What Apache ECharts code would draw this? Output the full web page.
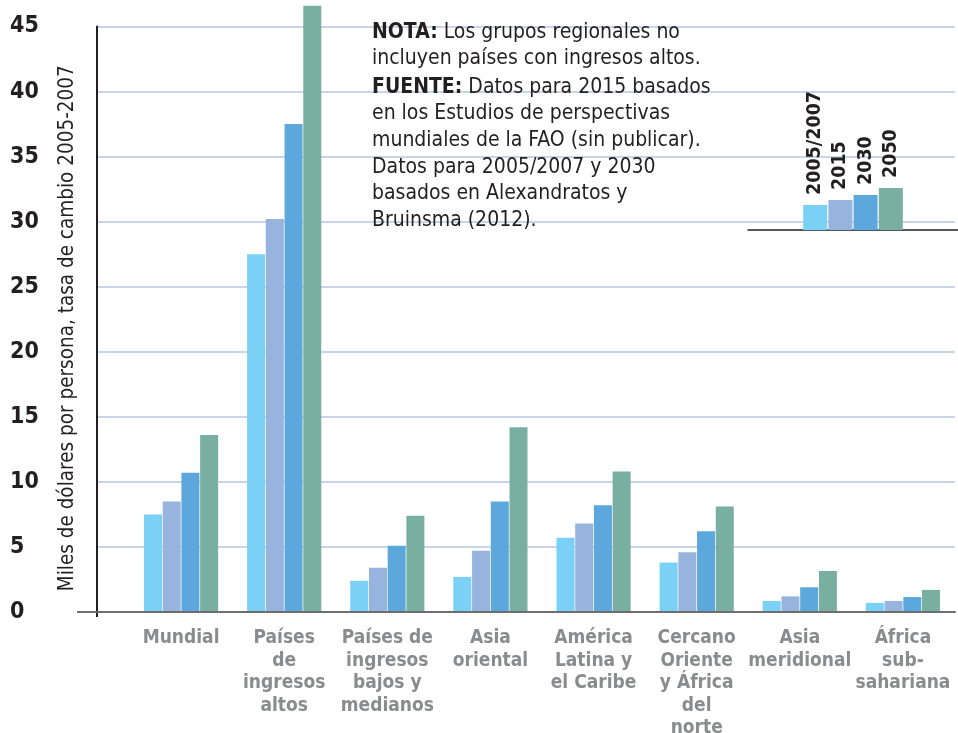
<!DOCTYPE html>
<html>
<head>
<meta charset="utf-8">
<script src="https://cdn.jsdelivr.net/npm/echarts@6/dist/echarts.min.js"></script>
<style>
  html, body { margin: 0; padding: 0; background: #fff; }
  #container { width: 958px; height: 733px; }
</style>
</head>
<body>
<div id="container"></div>
<script>
var dom = document.getElementById("container");
var myChart = echarts.init(dom);

var regions = [
  'Mundial',
  'Países\nde\ningresos\naltos',
  'Países de\ningresos\nbajos y\nmedianos',
  'Asia\noriental',
  'América\nLatina y\nel Caribe',
  'Cercano\nOriente\ny África\ndel\nnorte',
  'Asia\nmeridional',
  'África\nsub-\nsahariana'
];
var years = ['2005/2007', '2015', '2030', '2050'];
var v2005 = [7.5, 27.5, 2.4, 2.7, 5.7, 3.8, 0.85, 0.7];
var v2015 = [8.5, 30.2, 3.4, 4.7, 6.8, 4.6, 1.2, 0.85];
var v2030 = [10.7, 37.5, 5.1, 8.5, 8.2, 6.2, 1.9, 1.15];
var v2050 = [13.6, 46.6, 7.4, 14.2, 10.8, 8.1, 3.15, 1.7];
// alturas de las barras de la leyenda (escala propia 0-10)
var legendBars = [2.5, 3.0, 3.5, 4.2];
var yTicks = [0, 45, 5];

var colors = ['#7bd0f5', '#96b4de', '#5ca8dc', '#79afa0'];
var cond = "'DejaVu Sans Condensed', 'Liberation Sans Narrow', 'Roboto', sans-serif";
var allValues = [v2005, v2015, v2030, v2050];

var series = [];
years.forEach(function (y, i) {
  series.push({
    type: 'bar',
    name: y,
    xAxisIndex: 1,
    yAxisIndex: 1,
    barWidth: 18,
    barGap: '4%',
    clip: false,
    itemStyle: { color: colors[i] },
    data: allValues[i]
  });
});
years.forEach(function (y, i) {
  series.push({
    type: 'bar',
    name: y,
    xAxisIndex: 2,
    yAxisIndex: 2,
    barWidth: 24,
    barGap: '5%',
    itemStyle: { color: colors[i] },
    label: {
      show: true,
      position: 'top',
      rotate: 90,
      align: 'left',
      verticalAlign: 'middle',
      distance: 10,
      formatter: '{a}',
      fontFamily: cond,
      fontWeight: 'bold',
      fontSize: 19.5,
      color: '#231f20'
    },
    data: [legendBars[i]]
  });
});

option = {
  animation: false,
  textStyle: { fontFamily: cond },
  title: [{
    left: 372,
    top: 20,
    padding: 0,
    text: '{b|NOTA:} Los grupos regionales no\nincluyen países con ingresos altos.',
    textStyle: {
      fontFamily: cond, fontSize: 21, fontWeight: 'normal', color: '#231f20', lineHeight: 26,
      rich: { b: { fontFamily: cond, fontSize: 21, fontWeight: 'bold', color: '#231f20', lineHeight: 26 } }
    }
  }, {
    left: 372,
    top: 74,
    padding: 0,
    text: '{b|FUENTE:} Datos para 2015 basados\nen los Estudios de perspectivas\nmundiales de la FAO (sin publicar).\nDatos para 2005/2007 y 2030\nbasados en Alexandratos y\nBruinsma (2012).',
    textStyle: {
      fontFamily: cond, fontSize: 21, fontWeight: 'normal', color: '#231f20', lineHeight: 26.6,
      rich: { b: { fontFamily: cond, fontSize: 21, fontWeight: 'bold', color: '#231f20', lineHeight: 26.6 } }
    }
  }],
  graphic: [{
    type: 'line',
    shape: { x1: 77, y1: 612, x2: 97, y2: 612 },
    style: { stroke: '#6e6e6e', lineWidth: 2 }
  }, {
    type: 'line',
    shape: { x1: 97, y1: 611, x2: 97, y2: 617 },
    style: { stroke: '#231f20', lineWidth: 2 }
  }],
  grid: [
    { left: 97, right: 3, top: 26.5, bottom: 121, outerBoundsMode: 'none' },
    { left: 129.5, right: 3.5, top: 26.5, bottom: 121, outerBoundsMode: 'none' },
    { left: 748, right: 0, top: 130, bottom: 503, outerBoundsMode: 'none' }
  ],
  xAxis: [{
    gridIndex: 0,
    type: 'category',
    data: [''],
    axisLine: { show: true, lineStyle: { color: '#6e6e6e', width: 2 } },
    axisTick: { show: false },
    axisLabel: { show: false },
    z: 5
  }, {
    gridIndex: 1,
    type: 'category',
    data: regions,
    axisLine: { show: false },
    axisTick: { show: false },
    axisLabel: {
      interval: 0,
      margin: 15,
      fontFamily: cond,
      fontWeight: 'bold',
      fontSize: 19,
      lineHeight: 22.5,
      color: '#8a8b8d',
      align: 'center',
      verticalAlign: 'top'
    }
  }, {
    gridIndex: 2,
    type: 'category',
    data: [''],
    axisLine: { show: true, lineStyle: { color: '#231f20', width: 1.5 } },
    axisTick: { show: false },
    axisLabel: { show: false }
  }],
  yAxis: [{
    gridIndex: 0,
    type: 'value',
    min: yTicks[0],
    max: yTicks[1],
    interval: yTicks[2],
    name: 'Miles de dólares por persona, tasa de cambio 2005-2007',
    nameLocation: 'middle',
    nameGap: 19,
    nameMoveOverlap: false,
    nameTextStyle: { fontFamily: cond, fontSize: 20.5, color: '#231f20', padding: [0, 18, 0, 0] },
    axisLine: { show: true, lineStyle: { color: '#231f20', width: 2 } },
    axisTick: { show: false },
    splitLine: { show: true, lineStyle: { color: '#c8d4e8', width: 2 } },
    axisLabel: {
      align: 'left',
      margin: 87,
      fontFamily: cond,
      fontWeight: 'bold',
      fontSize: 23,
      color: '#231f20'
    }
  }, {
    gridIndex: 1,
    type: 'value',
    min: yTicks[0],
    max: yTicks[1],
    show: false
  }, {
    gridIndex: 2,
    type: 'value',
    min: 0,
    max: 10,
    show: false
  }],
  series: series
};

if (option && typeof option === "object") {
  myChart.setOption(option, true);
}
</script>
</body>
</html>
